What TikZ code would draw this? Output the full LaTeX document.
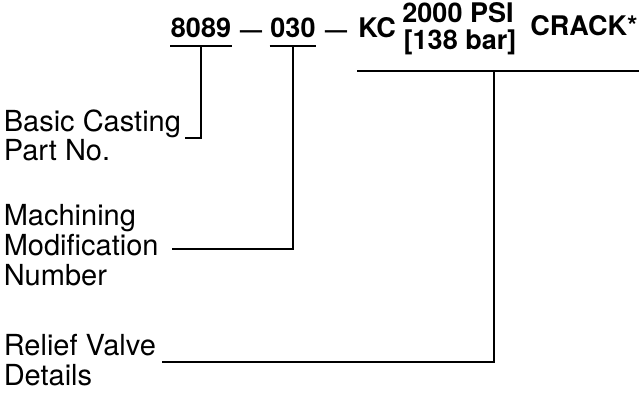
\documentclass[tikz,border=0pt]{standalone}
\usepackage{fontspec}
\setmainfont{TeX Gyre Heros}
\begin{document}
\begin{tikzpicture}[x=1pt,y=-1pt,line width=1.6pt,
    lbl/.style={anchor=base west,inner sep=0pt,font=\fontsize{29}{30}\selectfont},
    code/.style={anchor=base,inner sep=0pt,font=\fontsize{27}{28}\selectfont\bfseries},
    dashmark/.style={code,font=\fontsize{22}{24}\selectfont\bfseries}]
    \useasboundingbox (0,0) rectangle (639,392);
    \node[code] (cast)  at (201,37) {8089};
    \node[dashmark] (dasha) at (251,37) {---};
    \node[code] (mod)   at (293,37) {030};
    \node[dashmark] (dashb) at (336,37) {---};
    \node[code] (kc)    at (377,37) {KC};
    \node[code] (psi)   at (458,22) {2000 PSI};
    \node[code] (bar)   at (460,49) {[138 bar]};
    \node[code] (crack) at (584,35) {CRACK*};
    \node[lbl] (basic)   at (3,131) {Basic Casting};
    \node[lbl] (part)    at (3,160) {Part No.};
    \node[lbl] (mach)    at (3,225) {Machining};
    \node[lbl] (modif)   at (3,255) {Modification};
    \node[lbl] (numb)    at (3,285) {Number};
    \node[lbl] (relief)  at (3,355) {Relief Valve};
    \node[lbl] (details) at (3,385) {Details};
    \coordinate (castl) at ([yshift=-8pt]cast.south west);
    \coordinate (castr) at ([yshift=-8pt]cast.south east);
    \coordinate (castu) at ([yshift=-8pt]cast.south);
    \coordinate (modl)  at ([yshift=-8pt]mod.south west);
    \coordinate (modr)  at ([yshift=-8pt]mod.south east);
    \coordinate (modu)  at ([yshift=-8pt]mod.south);
    \coordinate (linel) at (357,71);
    \coordinate (liner) at (639,71);
    \coordinate (relu)  at (494,71);
    \coordinate (basicend) at (185,138);
    \coordinate (modend)   at (172,249);
    \coordinate (relend)   at (162,362);
    \draw (castl) -- (castr) (modl) -- (modr) (linel) -- (liner);
    \draw (castu) |- (basicend);
    \draw (modu) |- (modend);
    \draw (relu) |- (relend);
\end{tikzpicture}
\end{document}
